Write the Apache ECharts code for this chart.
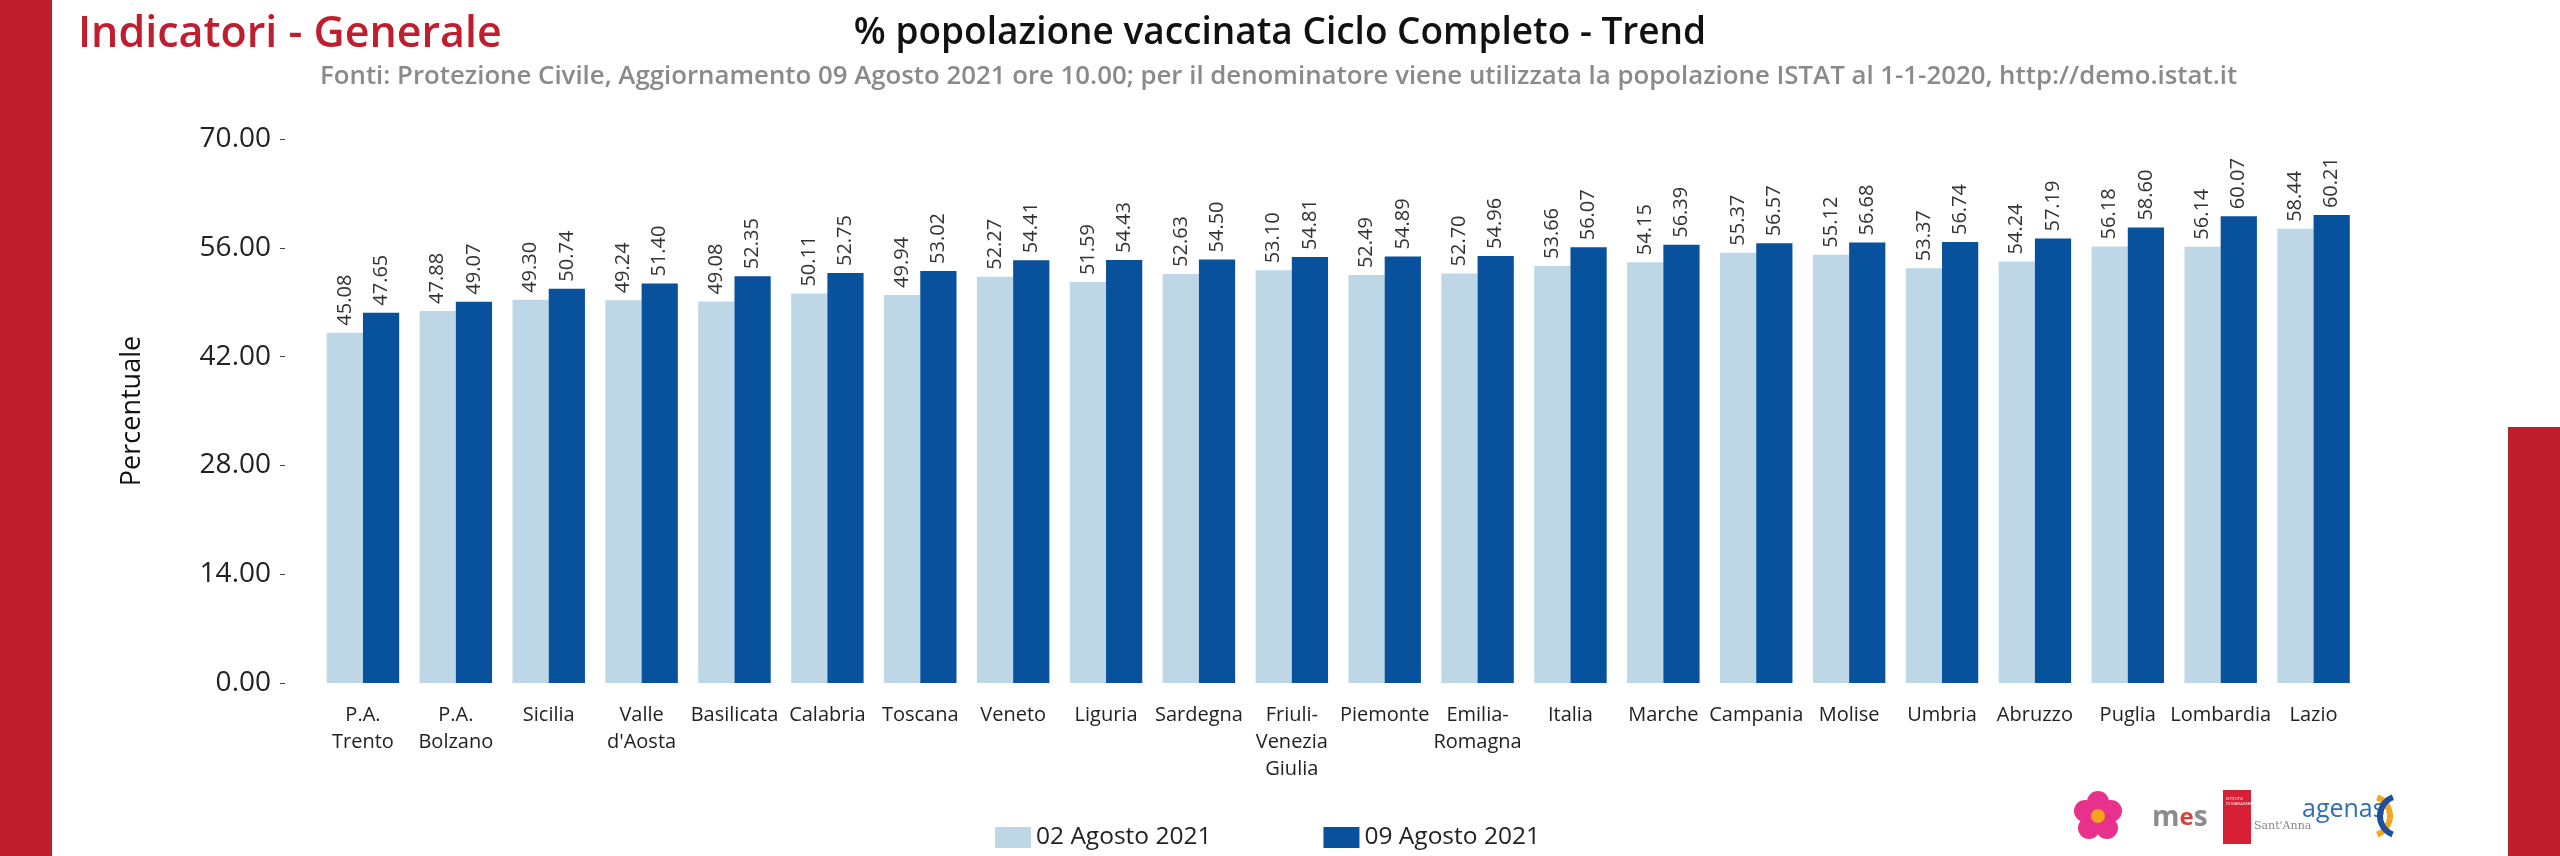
<!DOCTYPE html>
<html><head><meta charset="utf-8">
<script src="https://cdn.jsdelivr.net/npm/echarts@6/dist/echarts.min.js"></script>
<style>html,body{margin:0;padding:0;background:#fff}#c{width:2560px;height:856px}</style>
</head><body><div id="c"></div>
<script>
const categories = ['P.A.\nTrento','P.A.\nBolzano','Sicilia','Valle\nd\'Aosta','Basilicata','Calabria','Toscana','Veneto','Liguria','Sardegna','Friuli-\nVenezia\nGiulia','Piemonte','Emilia-\nRomagna','Italia','Marche','Campania','Molise','Umbria','Abruzzo','Puglia','Lombardia','Lazio'];
const seriesNames = ['02 Agosto 2021','09 Agosto 2021'];
const values02Ago = [45.08,47.88,49.30,49.24,49.08,50.11,49.94,52.27,51.59,52.63,53.10,52.49,52.70,53.66,54.15,55.37,55.12,53.37,54.24,56.18,56.14,58.44];
const values09Ago = [47.65,49.07,50.74,51.40,52.35,52.75,53.02,54.41,54.43,54.50,54.81,54.89,54.96,56.07,56.39,56.57,56.68,56.74,57.19,58.60,60.07,60.21];
const yMin = 0, yMax = 70, yInterval = 14;

const FONT = 'Open Sans';
const RED = '#be1e2d';
const chart = echarts.init(document.getElementById('c'), null, {renderer:'canvas'});
const labelCfg = {
  show:true, position:'top', rotate:90, align:'left', verticalAlign:'middle', distance:7,
  fontFamily:FONT, fontSize:20, color:'#333',
  formatter: p => p.value.toFixed(2)
};
chart.setOption({
  backgroundColor:'#ffffff',
  animation:false,
  title:[
    {text:'Indicatori - Generale', left:73, top:8, textStyle:{fontFamily:FONT, fontWeight:600, fontSize:43, color:RED}},
    {text:'% popolazione vaccinata Ciclo Completo - Trend', left:'center', top:10, textStyle:{fontFamily:FONT, fontWeight:600, fontSize:37, color:'#111'}},
    {text:'Fonti: Protezione Civile, Aggiornamento 09 Agosto 2021 ore 10.00; per il denominatore viene utilizzata la popolazione ISTAT al 1-1-2020, http://demo.istat.it', left:315, top:59, textStyle:{fontFamily:FONT, fontWeight:600, fontSize:25.8, color:'#8a8a8a'}}
  ],
  legend:{
    data:seriesNames, left:990, top:820, itemWidth:36, itemHeight:21, itemGap:112,
    icon:'rect', textStyle:{fontFamily:FONT, fontSize:24.5, color:'#222'}
  },
  grid:{left:316.5, right:200, top:139, bottom:173},
  xAxis:{
    type:'category', data:categories,
    axisLine:{show:false}, axisTick:{show:false},
    axisLabel:{interval:0, fontFamily:FONT, fontSize:20, lineHeight:27, color:'#222', margin:19}
  },
  yAxis:{
    type:'value', min:yMin, max:yMax, interval:yInterval, offset:31.5,
    name:'Percentuale', nameLocation:'middle', nameRotate:90, nameGap:139,
    nameTextStyle:{fontFamily:FONT, fontSize:27, color:'#111'},
    axisLine:{show:false}, axisTick:{show:true, length:5, lineStyle:{color:'#444'}},
    splitLine:{show:false},
    axisLabel:{fontFamily:FONT, fontSize:28, color:'#222', margin:14, formatter:v=>v.toFixed(2)}
  },
  series:[
    {name:seriesNames[0], type:'bar', data:values02Ago, barGap:'0%', barCategoryGap:'22%', itemStyle:{color:'#bdd7e7'}, label:labelCfg},
    {name:seriesNames[1], type:'bar', data:values09Ago, barGap:'0%', barCategoryGap:'22%', itemStyle:{color:'#08519c'}, label:labelCfg}
  ],
  graphic:[
    {type:'rect', shape:{x:0,y:0,width:52,height:856}, style:{fill:RED}, silent:true},
    {type:'rect', shape:{x:2508,y:427,width:52,height:429}, style:{fill:RED}, silent:true},
    // flower logo
    {type:'group', x:2098, y:816, children:[
      {type:'circle', shape:{cx:0,cy:-14,r:11}, style:{fill:'#e8318a'}},
      {type:'circle', shape:{cx:13,cy:-5,r:11}, style:{fill:'#e8318a'}},
      {type:'circle', shape:{cx:9,cy:12,r:11}, style:{fill:'#e8318a'}},
      {type:'circle', shape:{cx:-9,cy:12,r:11}, style:{fill:'#e8318a'}},
      {type:'circle', shape:{cx:-13,cy:-5,r:11}, style:{fill:'#e8318a'}},
      {type:'circle', shape:{cx:0,cy:0,r:7}, style:{fill:'#f6a21c'}}
    ]},
    // mes logo
    {type:'text', x:2152, y:818, style:{text:'{g|m}{r|e}{g|s}', verticalAlign:'middle', rich:{
      g:{fontFamily:FONT, fontSize:28, fontWeight:700, fill:'#8c8c8c'},
      r:{fontFamily:FONT, fontSize:24, fontWeight:700, fill:'#d8413a'}}}},
    // Sant'Anna logo
    {type:'rect', shape:{x:2223,y:790,width:28,height:54}, style:{fill:'#d71f36'}},
    {type:'text', x:2226, y:796, style:{text:'ISTITUTO\nDI MANAGEMENT', fontSize:4, lineHeight:5, fill:'#fff', fontFamily:FONT}},
    {type:'text', x:2254, y:826, style:{text:"Sant'Anna", fontFamily:'DejaVu Serif', fontSize:11, fill:'#888', verticalAlign:'middle'}},
    // agenas logo
    {type:'text', x:2302, y:810, style:{text:'agenas', fontFamily:FONT, fontSize:25, fill:'#2f6db5', verticalAlign:'middle'}},
    {type:'arc', shape:{cx:2370,cy:816,r:20,startAngle:-1.2,endAngle:1.2}, style:{stroke:'#f5a623', lineWidth:6, fill:null}},
    {type:'arc', shape:{cx:2400,cy:816,r:20,startAngle:1.95,endAngle:4.35}, style:{stroke:'#1e4f9c', lineWidth:6, fill:null}}
  ]
});
</script></body></html>
